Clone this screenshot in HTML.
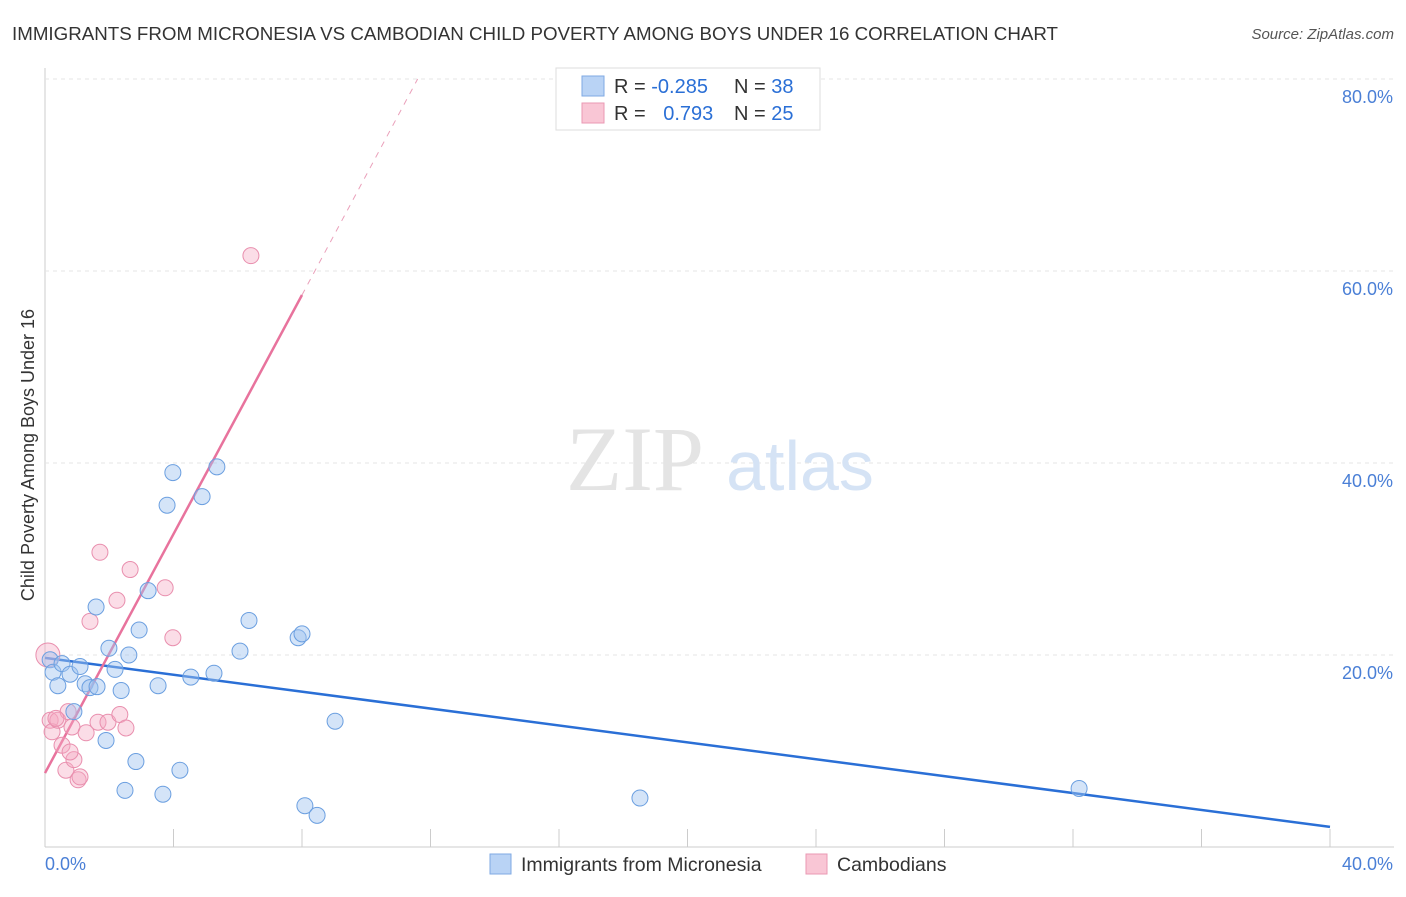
<!DOCTYPE html>
<html><head><meta charset="utf-8">
<style>
body{margin:0;background:#fff;font-family:"Liberation Sans",sans-serif;}
</style></head>
<body>
<svg id="chart" width="1406" height="892" viewBox="0 0 1406 892" xmlns="http://www.w3.org/2000/svg">
<text x="12" y="40" font-size="18" fill="#333" textLength="1046" lengthAdjust="spacingAndGlyphs">IMMIGRANTS FROM MICRONESIA VS CAMBODIAN CHILD POVERTY AMONG BOYS UNDER 16 CORRELATION CHART</text>
<text x="1394" y="39" font-size="15" fill="#555" font-style="italic" text-anchor="end">Source: ZipAtlas.com</text>
<text transform="translate(34,455) rotate(-90)" font-size="18" fill="#333" text-anchor="middle">Child Poverty Among Boys Under 16</text>
<g id="grid"></g>
<g>
<text x="635" y="490" font-size="92" fill="#e4e4e4" font-family="Liberation Serif,serif" text-anchor="middle">ZIP</text>
<text x="800" y="490" font-size="70" fill="#d5e3f5" text-anchor="middle">atlas</text>
</g>
<g id="lines"></g>
<g id="points"></g>
<g>
<rect x="556" y="68" width="264" height="62" fill="#fff" stroke="#ddd"/>
<rect x="582" y="76" width="22" height="20" fill="#b9d3f5" stroke="#7fa9e3"/>
<rect x="582" y="103" width="22" height="20" fill="#f9c6d5" stroke="#ea98b3"/>
<text x="614" y="93" font-size="20" fill="#333">R = <tspan fill="#2a6fd6">-0.285</tspan></text>
<text x="734" y="93" font-size="20" fill="#333">N = <tspan fill="#2a6fd6">38</tspan></text>
<text x="614" y="120" font-size="20" fill="#333">R = <tspan fill="#2a6fd6" dx="12">0.793</tspan></text>
<text x="734" y="120" font-size="20" fill="#333">N = <tspan fill="#2a6fd6">25</tspan></text>
</g>
<g>
<rect x="490" y="854" width="21" height="20" fill="#b9d3f5" stroke="#7fa9e3"/>
<text x="521" y="871" font-size="19.5" fill="#333">Immigrants from Micronesia</text>
<rect x="806" y="854" width="21" height="20" fill="#f9c6d5" stroke="#ea98b3"/>
<text x="837" y="871" font-size="19.5" fill="#333">Cambodians</text>
</g>
</svg>
<script>
const xTickLabels=["0.0%","40.0%"];
const yTicks=[20,40,60,80];
const yTickLabels=["20.0%","40.0%","60.0%","80.0%"];
const blueX=[0.16,0.25,0.4,0.53,0.78,0.9,1.09,1.25,1.4,1.62,1.59,1.9,1.99,2.18,2.37,2.49,2.61,2.83,2.93,3.21,3.52,3.67,3.8,3.98,4.2,4.54,4.89,5.26,5.35,6.07,6.35,7.88,8.0,8.09,8.47,9.03,18.52,32.19];
const blueY=[19.5,18.2,16.8,19.1,18.0,14.1,18.8,17.0,16.6,16.7,25.0,11.1,20.7,18.5,16.3,5.9,20.0,8.9,22.6,26.7,16.8,5.5,35.6,39.0,8.0,17.7,36.5,18.1,39.6,20.4,23.6,21.8,22.2,4.3,3.3,13.1,5.1,6.1];
const pinkX=[0.09,0.16,0.22,0.4,0.53,0.65,0.72,0.84,0.9,1.03,1.09,1.28,1.4,1.65,1.71,1.96,2.24,2.33,2.52,2.65,3.74,3.98,6.41,0.78,0.34];
const pinkY=[20.0,13.2,12.0,13.2,10.6,8.0,14.1,12.5,9.1,7.0,7.3,11.9,23.5,13.0,30.7,13.0,25.7,13.8,12.4,28.9,27.0,21.8,61.6,9.9,13.4];
const blueTrend=[[0,19.7],[40,2.1]];
const pinkTrend=[[0,7.7],[8.0,57.5]];
const pinkTrendDash=[[8.0,57.5],[11.6,80]];

const NS="http://www.w3.org/2000/svg";
const X0=45,X1=1330,Y0=847,PXY=9.6;
const sx=v=>X0+(v/40)*(X1-X0);
const sy=v=>Y0-v*PXY;
function mk(tag,attrs,parent){const e=document.createElementNS(NS,tag);for(const k in attrs)e.setAttribute(k,attrs[k]);parent.appendChild(e);return e;}
const grid=document.getElementById('grid');
let ax=mk('line',{x1:45,y1:68,x2:45,y2:847,stroke:'#ccc'},grid);


let bx=mk('line',{x1:45,y1:847,x2:1394,y2:847,stroke:'#ccc'},grid);


yTicks.forEach((t,i)=>{
  const g=mk('line',{x1:45,y1:sy(t),x2:1394,y2:sy(t),stroke:'#e4e4e4','stroke-dasharray':'4,4'},grid);
  
  
  const tx=mk('text',{x:1393,y:sy(t)+24,'font-size':18,fill:'#4a7fd6','text-anchor':'end'},grid);
  tx.textContent=yTickLabels[i];
  
  
});
for(let i=0;i<=10;i++){
  const x=sx(i*4);
  const t=mk('line',{x1:x,y1:829,x2:x,y2:847,stroke:'#ccc'},grid);
  
  
}
const xl0=mk('text',{x:45,y:870,'font-size':18,fill:'#4a7fd6'},grid);xl0.textContent=xTickLabels[0];


const xl1=mk('text',{x:1393,y:870,'font-size':18,fill:'#4a7fd6','text-anchor':'end'},grid);xl1.textContent=xTickLabels[1];



const pts=document.getElementById('points');
pinkX.forEach((x,i)=>{
  const c=mk('circle',{cx:sx(x),cy:sy(pinkY[i]),r:i===0?12:8,fill:'rgba(244,170,195,0.4)',stroke:'#e98fae','stroke-width':1},pts);
  
  
});
blueX.forEach((x,i)=>{
  const c=mk('circle',{cx:sx(x),cy:sy(blueY[i]),r:8,fill:'rgba(160,195,240,0.45)',stroke:'#6b9fe0','stroke-width':1},pts);
  
  
});
const lines=document.getElementById('lines');
const bl=mk('line',{x1:sx(blueTrend[0][0]),y1:sy(blueTrend[0][1]),x2:sx(blueTrend[1][0]),y2:sy(blueTrend[1][1]),stroke:'#2a6fd6','stroke-width':2.5},lines);


const pl=mk('line',{x1:sx(pinkTrend[0][0]),y1:sy(pinkTrend[0][1]),x2:sx(pinkTrend[1][0]),y2:sy(pinkTrend[1][1]),stroke:'#e8739d','stroke-width':2.5},lines);


const pd=mk('line',{x1:sx(pinkTrendDash[0][0]),y1:sy(pinkTrendDash[0][1]),x2:sx(pinkTrendDash[1][0]),y2:sy(pinkTrendDash[1][1]),stroke:'#eaa0ba','stroke-width':1,'stroke-dasharray':'6,6'},lines);


</script>
</body></html>
